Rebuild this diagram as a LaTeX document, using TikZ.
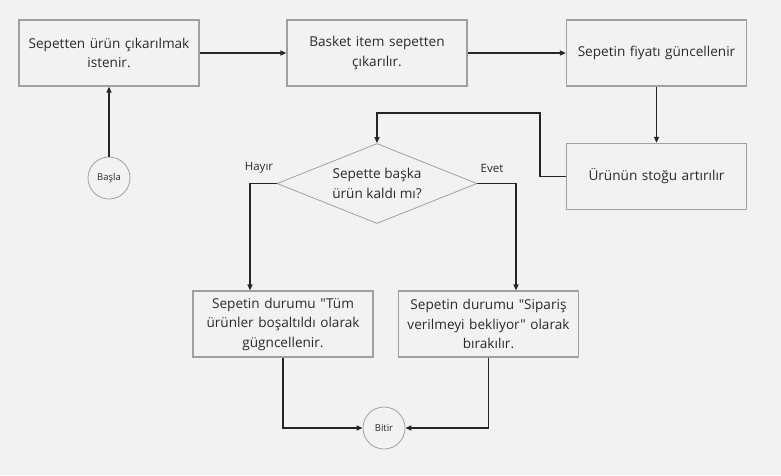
\documentclass[tikz,border=0pt]{standalone}
\usepackage{fontspec}
\setmainfont{Open Sans}[Ligatures=TeXOff]
\usetikzlibrary{shapes.geometric,arrows.meta}
\definecolor{bg}{HTML}{F2F2F2}
\definecolor{bord}{HTML}{A0A0A0}
\definecolor{txt}{HTML}{2A2A2A}
\tikzset{
  box/.style={draw=bord, line width=1.2pt, fill=bg, minimum width=180pt, minimum height=66pt, text width=176pt, align=center, text=txt, font=\fontsize{13.6}{19.5}\selectfont, inner sep=0pt},
  circ/.style={draw=bord, line width=0.8pt, circle, fill=bg, minimum size=42pt, inner sep=0pt, text=txt, font=\fontsize{9.5}{11}\selectfont},
  dia/.style={draw=bord, line width=0.8pt, diamond, aspect=2.5, minimum width=200pt, minimum height=80pt, inner sep=0pt, align=center, text=txt, font=\fontsize{13.6}{19.5}\selectfont},
  conn/.style={draw=black!85, line width=1.4pt, -{Triangle[length=6pt,width=5pt]}},
  lbl/.style={text=txt, font=\fontsize{11.5}{13}\selectfont},
}
\begin{document}
\begin{tikzpicture}[x=1pt,y=-1pt]
\fill[bg] (0,0) rectangle (781,475);
\useasboundingbox (0,0) rectangle (781,475);
\node[box] (b1) at (109,53) {Sepetten ürün çıkarılmak\\istenir.};
\node[box] (b2) at (377,53) {Basket item sepetten\\çıkarılır.};
\node[box] (b3) at (656.5,53) {Sepetin fiyatı güncellenir};
\node[box] (b4) at (656.5,176.5) {Ürünün stoğu artırılır};
\node[circ] (start) at (109,178) {Başla};
\node[dia] (d) at (377,183.5) {Sepette başka\\ürün kaldı mı?};
\node[box] (b5) at (283,324) {Sepetin durumu "Tüm\\ürünler boşaltıldı olarak\\gügncellenir.};
\node[box] (b6) at (488.5,324) {Sepetin durumu "Sipariş\\verilmeyi bekliyor" olarak\\bırakılır.};
\node[circ] (end) at (384,428) {Bitir};
\coordinate (c1) at (540,113);
\draw[conn] (start) -- (b1);
\draw[conn] (b1) -- (b2);
\draw[conn] (b2) -- (b3);
\draw[conn] (b3) -- (b4);
\draw[conn] (b4.west) -| (c1) -| (d.north);
\draw[conn] (d.west) -| (b5.north -| 250,0);
\draw[conn] (d.east) -| (b6.north -| 516,0);
\draw[conn] (b5.south) |- (end.west);
\draw[conn] (b6.south) |- (end.east);
\node[lbl] (l1) at (259,168) {Hayır};
\node[lbl] (l2) at (492,168) {Evet};
\end{tikzpicture}
\end{document}
